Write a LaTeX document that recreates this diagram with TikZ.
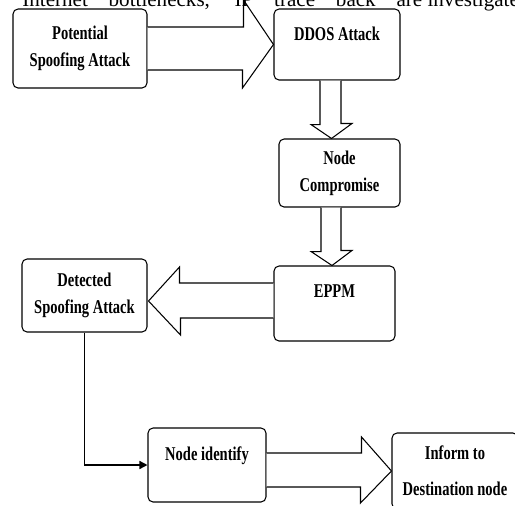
\documentclass[tikz,border=0pt]{standalone}
\usepackage{fontspec}
\setmainfont{Liberation Serif}
\newfontfamily\boxfont[FakeStretch=0.745]{Liberation Serif}
\usetikzlibrary{calc,arrows.meta}
\tikzset{
	box/.style={draw, line width=0.6pt, rounded corners=0.1cm, inner sep=0pt, align=center,
		font=\boxfont\bfseries\fontsize{11.1}{15.3}\selectfont},
	blk/.style={draw, line width=0.6pt, fill=white, line join=miter},
	link/.style={line width=0.8pt, -{Triangle[length=0.16cm,width=0.16cm]}}
}
\begin{document}
\begin{tikzpicture}[x=0.02cm,y=-0.02cm]
	\useasboundingbox (0,0) rectangle (515,505);
	\clip (0,0) rectangle (515,505);
	%row 1
	\node[box, minimum width=2.68cm, minimum height=1.58cm] (pot) at (80,48.5) {Potential\\Spoofing Attack};
	\node[box, minimum width=2.52cm, text height=0.62cm, text depth=0.8cm] (ddos) at (337,44.5) {DDOS Attack};
	%column on the right
	\node[box, minimum width=2.42cm, minimum height=1.36cm] (comp) at (339.5,173) {Node\\Compromise};
	\node[box, minimum width=2.42cm, text height=0.62cm, text depth=0.88cm] (eppm) at (334.5,303.5) {EPPM};
	\node[box, minimum width=2.5cm, minimum height=1.46cm] (det) at (84.5,295.5) {Detected\\Spoofing Attack};
	%bottom row
	\node[box, minimum width=2.36cm, text height=0.64cm, text depth=0.84cm] (nid) at (207,465) {Node identify};
	\node[box, minimum width=2.52cm, minimum height=1.52cm] (inf) at (455,471) {Inform to\\[5.2pt]Destination node};
	%block arrows
	\draw[blk] ($(pot.east)+(0,-21.5)$) -- ++(96,0) -- ++(0,-27) -- (ddos.west)
		-- ++(-31,43.5) -- ++(0,-18) -- ($(pot.east)+(0,21.5)$);
	\draw[blk] ($(ddos.south)+(-17,0)$) -- ++(0,44) -- ++(-9,0) -- ($(comp.north)+(-8,0)$)
		-- ++(20.5,-15) -- ++(-11,0) -- ($(ddos.south)+(4,0)$);
	\draw[blk] ($(comp.south)+(-18.5,0)$) -- ++(0,44) -- ++(-10,0) -- ($(eppm.north)+(-2.5,0)$)
		-- ++(20,-15) -- ++(-11,0) -- ($(comp.south)+(1.5,0)$);
	\draw[blk] ($(eppm.west)+(0,-20.5)$) -- ++(-94,0) -- ++(0,-16) -- ($(det.east)+(1,5.5)$)
		-- ++(32,34) -- ++(0,-17) -- ($(eppm.west)+(0,14.5)$);
	\draw[blk] ($(nid.east)+(0,-12)$) -- ++(95,0) -- ++(0,-16) -- (inf.west)
		-- ++(-31,32) -- ++(0,-16) -- ($(nid.east)+(0,22)$);
	%line to node identify
	\draw[link] (det.south) |- (nid.west);
	%text line above, cut by the edge
	\node[anchor=base west, inner sep=0pt, font=\fontsize{12}{14}\selectfont] (head) at (22,6)
		{\makebox[8.0cm][s]{Internet bottlenecks, IP trace back are}\ investigated};
\end{tikzpicture}
\end{document}
